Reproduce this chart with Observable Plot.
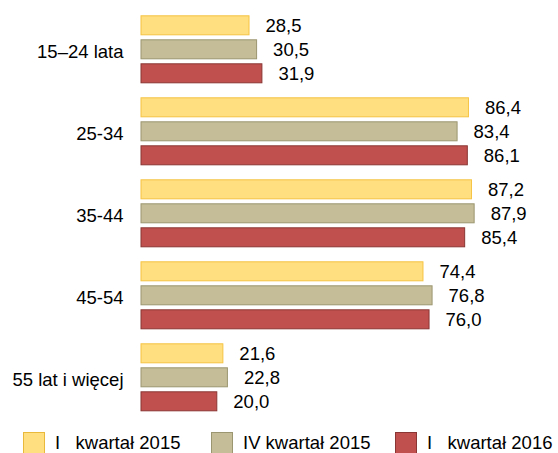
<!DOCTYPE html>
<html>
<head>
<meta charset="utf-8">
<script src="https://cdn.jsdelivr.net/npm/d3@7"></script>
<script src="https://cdn.jsdelivr.net/npm/@observablehq/plot@0.6"></script>
<style>
  html, body { margin: 0; padding: 0; background: #fff; }
  body { width: 558px; height: 453px; overflow: hidden; position: relative; font-family: "Liberation Sans", Arial, sans-serif; }
  #legend { position: absolute; left: 0; top: 432px; width: 558px; height: 22px; font-size: 18.5px; color: #000; }
  .item { position: absolute; top: 0; height: 22px; display: flex; align-items: center; white-space: pre; }
  .sw { width: 20px; height: 20px; border: 1px solid; margin-right: 10px; box-sizing: content-box; flex: none; }
</style>
</head>
<body>
<div id="chart"></div>
<div id="legend"></div>
<script>
const categories = ["15–24 lata", "25-34", "35-44", "45-54", "55 lat i więcej"];
const series = ["I   kwartał 2015", "IV kwartał 2015", "I   kwartał 2016"];
const q1_2015 = [28.5, 86.4, 87.2, 74.4, 21.6];
const q4_2015 = [30.5, 83.4, 87.9, 76.8, 22.8];
const q1_2016 = [31.9, 86.1, 85.4, 76.0, 20.0];
const fills = ["#FFDF7F", "#C4BD97", "#C0504D"];
const strokes = ["#F6C444", "#9C9670", "#8A3634"];

const seriesValues = [q1_2015, q4_2015, q1_2016];
const data = [];
categories.forEach((c, i) => {
  series.forEach((s, j) => {
    data.push({ group: c, series: s, value: seriesValues[j][i] });
  });
});
const fmt = v => v.toFixed(1).replace(".", ",");

const chart = Plot.plot({
  width: 558,
  height: 420,
  marginLeft: 141,
  marginRight: 38,
  marginTop: 10.2,
  marginBottom: 2.4,
  style: { fontFamily: "Liberation Sans, Arial, sans-serif", fontSize: "18.5px", color: "#000", background: "#fff" },
  x: { domain: [0, 100], axis: null },
  y: { domain: series, padding: 0.2, axis: null },
  fy: { domain: categories, padding: 0.062, label: null },
  color: { domain: series, range: fills },
  marks: [
    Plot.axisFy({ anchor: "left", tickSize: 0, tickPadding: 18, label: null, fontSize: 18.5, dy: 2.5 }),
    Plot.barX(data, {
      fy: "group", y: "series", x: "value",
      fill: "series",
      stroke: d => strokes[series.indexOf(d.series)],
      strokeWidth: 1
    }),
    Plot.text(data, {
      fy: "group", y: "series", x: "value",
      text: d => fmt(d.value),
      textAnchor: "start", dx: 16, dy: 0.5, fontSize: 18.5, fill: "#000"
    })
  ]
});
document.getElementById("chart").appendChild(chart);

const legendX = [23, 211, 395];
const legend = document.getElementById("legend");
series.forEach((s, j) => {
  const it = document.createElement("div");
  it.className = "item";
  it.style.left = legendX[j] + "px";
  const sw = document.createElement("span");
  sw.className = "sw";
  sw.style.background = fills[j];
  sw.style.borderColor = strokes[j] === "#F6C444" ? "#E8B93A" : strokes[j];
  const tx = document.createElement("span");
  tx.textContent = s;
  it.appendChild(sw);
  it.appendChild(tx);
  legend.appendChild(it);
});
</script>
</body>
</html>
